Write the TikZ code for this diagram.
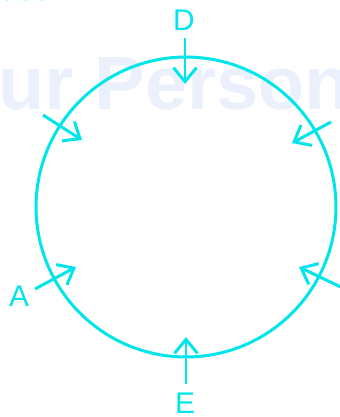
\documentclass[tikz,border=0pt]{standalone}
\usepackage{fontspec}
\setmainfont{Liberation Sans}
\usetikzlibrary{arrows.meta}

\definecolor{aqua}{RGB}{0,228,236}
\definecolor{mark}{RGB}{234,241,252}

\tikzset{
  flow/.style={draw=aqua, line width=1.7pt, -{Straight Barb[length=2.8mm, width=4.6mm, line width=1.7pt]}},
  lbl/.style={text=aqua, inner sep=0pt, font=\fontsize{17}{19}\selectfont}
}

\begin{document}
\begin{tikzpicture}[x=0.02cm, y=-0.02cm]

\clip (0,0) rectangle (340,417);

% watermark and cut title
\node[text=mark, font=\fontsize{43}{48}\selectfont\bfseries, anchor=base west, inner sep=0pt] (wm) at (-2,109) {ur Person};
\node[lbl, anchor=base west] (title) at (1,0) {ase 4};

% the ring
\draw[aqua, line width=1.7pt] (186,207) circle [radius=3cm];

% labels
\node[lbl] (D) at (184,20) {D};
\node[lbl] (E) at (185,403) {E};
\node[lbl] (A) at (19,296) {A};

% arrow ends
\coordinate (d1) at (185,38);  \coordinate (d2) at (185,84);
\coordinate (e1) at (186,384); \coordinate (e2) at (186,337);
\coordinate (a1) at (35,289);  \coordinate (a2) at (76,267);
\coordinate (b1) at (43,115);  \coordinate (b2) at (82,140);
\coordinate (c1) at (331,122); \coordinate (c2) at (292,143);
\coordinate (f1) at (343,288); \coordinate (f2) at (299,267);

% arrows pointing in
\draw[flow] (d1) -- (d2);
\draw[flow] (e1) -- (e2);
\draw[flow] (a1) -- (a2);
\draw[flow] (b1) -- (b2);
\draw[flow] (c1) -- (c2);
\draw[flow] (f1) -- (f2);

\end{tikzpicture}
\end{document}
